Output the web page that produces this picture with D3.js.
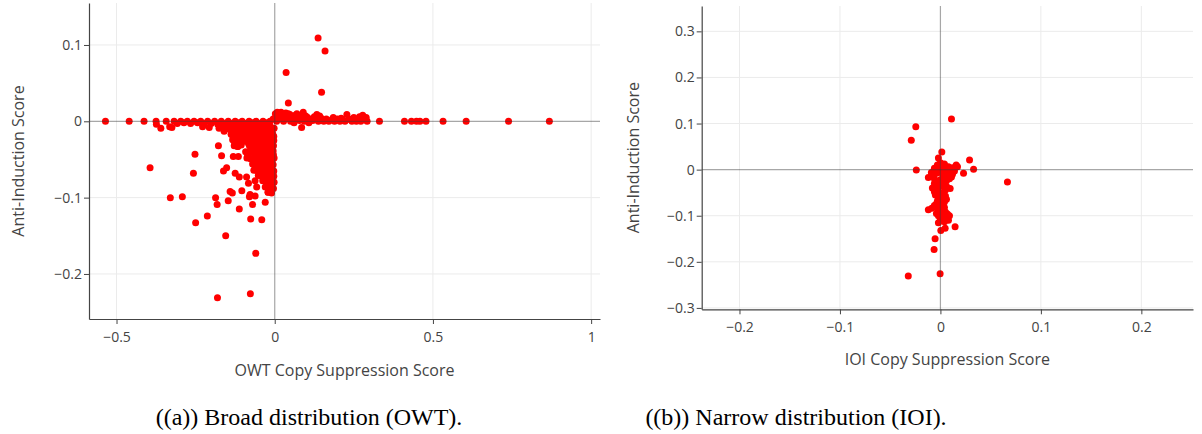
<!DOCTYPE html>
<html>
<head>
<meta charset="utf-8">
<script src="https://cdn.jsdelivr.net/npm/d3@7"></script>
<style>
  body { margin: 0; background: #fff; }
  svg { display: block; font-family: "Open Sans", sans-serif; }
</style>
</head>
<body>
<svg id="chart" width="1202" height="434"></svg>
<script>
// ---- OWT panel: points, [copy suppression, anti-induction]
const owtBand = [
  [-0.535,0],[-0.46,0],[-0.413,0],[-0.375,0],[-0.374,-0.004],[-0.36,-0.009],[-0.343,0],[-0.332,-0.007],
  [-0.325,-0.008],[-0.318,0],[-0.308,-0.003],[-0.297,0],[-0.287,-0.002],[-0.276,0],[-0.266,-0.003],
  [-0.255,0],[-0.244,-0.002],[-0.234,0],[-0.228,-0.007],[-0.223,-0.003],[-0.212,0],[-0.207,-0.008],
  [-0.201,-0.003],[-0.19,0],[-0.18,-0.004],[-0.169,0],[-0.158,-0.003],[-0.147,0],[-0.136,-0.003],
  [-0.125,0],[-0.114,-0.002],[-0.103,0],[-0.092,-0.003],[-0.081,0],[-0.07,-0.002],[-0.059,0],
  [-0.048,-0.003],[-0.037,0],[-0.026,-0.002],[-0.015,0],[-0.005,0.003],
  [0.004,0.006],[0.006,0],[0.012,0.01],[0.017,0.003],[0.024,0.008],[0.028,0],[0.035,0.011],[0.039,0.004],
  [0.048,0.009],[0.05,0],[0.058,0.006],[0.061,-0.002],[0.07,0.01],[0.072,0.003],[0.083,0.007],[0.085,-0.008],
  [0.09,0.012],[0.094,0],[0.104,0.005],[0.108,-0.002],[0.116,0.002],[0.125,0.006],[0.133,0.009],[0.138,0],
  [0.147,0.004],[0.155,0],[0.163,0.003],[0.171,0],[0.18,0.002],[0.189,0],[0.198,0.003],[0.206,0],
  [0.215,0.002],[0.222,0],[0.228,0.009],[0.235,0.003],[0.244,0],[0.25,0.005],[0.258,0],[0.265,0.003],
  [0.272,0],[0.278,0.008],[0.285,0.002],[0.289,0.005],[0.292,0],
  [0.331,0],[0.41,0],[0.432,0],[0.448,0],[0.459,0],[0.478,0],[0.532,0],[0.605,0],[0.739,0],[0.868,0],
  [0.01,0.004],[0.02,0.012],[0.031,0.005],[0.043,0.01],[0.054,0.003],[0.065,0.008],[0.078,0.001],
  [0.098,0.007],[0.12,0.001],[0.142,0.007],[0.16,0.001],[0.185,0.005],[0.21,0.004],[0.24,0.002],[0.268,0.006]
];

const owtCore = [
  [-0.176,-0.009],[-0.165,-0.008],[-0.154,-0.01],[-0.143,-0.008],[-0.132,-0.009],[-0.121,-0.008],
  [-0.11,-0.01],[-0.099,-0.008],[-0.088,-0.009],[-0.077,-0.008],[-0.066,-0.01],[-0.055,-0.008],
  [-0.044,-0.009],[-0.033,-0.008],[-0.022,-0.01],[-0.011,-0.008],[-0.002,-0.009],
  [-0.138,-0.017],[-0.127,-0.016],[-0.116,-0.018],[-0.105,-0.016],[-0.094,-0.017],[-0.083,-0.015],
  [-0.072,-0.017],[-0.061,-0.016],[-0.05,-0.018],[-0.039,-0.016],[-0.028,-0.017],[-0.017,-0.015],[-0.006,-0.017],
  [-0.133,-0.024],[-0.122,-0.025],[-0.111,-0.023],[-0.1,-0.024],[-0.089,-0.026],[-0.078,-0.024],
  [-0.067,-0.025],[-0.056,-0.023],[-0.045,-0.025],[-0.034,-0.024],[-0.023,-0.026],[-0.012,-0.024],[-0.003,-0.025],
  [-0.128,-0.032],[-0.117,-0.033],[-0.106,-0.031],[-0.08,-0.032],[-0.069,-0.033],[-0.058,-0.031],
  [-0.047,-0.033],[-0.036,-0.032],[-0.025,-0.031],[-0.014,-0.033],[-0.004,-0.032],
  [-0.092,-0.04],[-0.081,-0.041],[-0.07,-0.039],[-0.059,-0.041],[-0.048,-0.04],[-0.037,-0.039],
  [-0.026,-0.041],[-0.015,-0.04],[-0.005,-0.039],
  [-0.088,-0.048],[-0.077,-0.049],[-0.055,-0.047],[-0.044,-0.049],[-0.033,-0.048],[-0.022,-0.047],
  [-0.011,-0.049],[-0.002,-0.048],
  [-0.07,-0.056],[-0.059,-0.057],[-0.048,-0.055],[-0.037,-0.057],[-0.026,-0.056],[-0.015,-0.055],[-0.005,-0.057],
  [-0.066,-0.064],[-0.055,-0.065],[-0.044,-0.063],[-0.033,-0.065],[-0.022,-0.064],[-0.011,-0.063],[-0.003,-0.065],
  [-0.052,-0.071],[-0.041,-0.072],[-0.03,-0.07],[-0.019,-0.072],[-0.008,-0.071],[-0.003,-0.072],
  [-0.038,-0.078],[-0.027,-0.079],[-0.016,-0.077],[-0.005,-0.079],[-0.002,-0.08],
  [-0.03,-0.086],[-0.019,-0.087],[-0.008,-0.085],[-0.021,-0.093],[-0.01,-0.094]
];

// in-between markers that close the gaps of the dense wedge
const owtFill = [
  [-0.17,-0.004],[-0.148,-0.005],[-0.126,-0.004],[-0.104,-0.005],[-0.082,-0.004],[-0.06,-0.005],
  [-0.038,-0.004],[-0.016,-0.005],[-0.16,-0.013],[-0.137,-0.012],[-0.115,-0.013],[-0.093,-0.012],
  [-0.071,-0.013],[-0.049,-0.012],[-0.027,-0.013],[-0.008,-0.012],[-0.132,-0.02],[-0.11,-0.021],
  [-0.088,-0.02],[-0.066,-0.021],[-0.044,-0.02],[-0.022,-0.021],[-0.003,-0.02],[-0.127,-0.028],
  [-0.105,-0.028],[-0.083,-0.029],[-0.061,-0.028],[-0.039,-0.029],[-0.017,-0.028],[-0.075,-0.036],
  [-0.053,-0.037],[-0.031,-0.036],[-0.009,-0.037],[-0.086,-0.044],[-0.064,-0.045],[-0.042,-0.044],
  [-0.02,-0.045],[-0.004,-0.044],[-0.066,-0.052],[-0.05,-0.052],[-0.028,-0.052],[-0.008,-0.052],
  [-0.062,-0.06],[-0.042,-0.06],[-0.02,-0.06],[-0.046,-0.068],[-0.025,-0.068],[-0.006,-0.068],
  [-0.033,-0.075],[-0.011,-0.075],[-0.024,-0.082],[-0.004,-0.088]
];

const owtScatter = [
  [-0.394,-0.061],[-0.33,-0.1],[-0.292,-0.099],[-0.252,-0.043],[-0.257,-0.068],[-0.25,-0.133],
  [-0.213,-0.124],[-0.187,-0.1],[-0.182,-0.109],[-0.178,-0.032],[-0.168,-0.045],[-0.162,-0.065],
  [-0.152,-0.061],[-0.155,-0.15],[-0.147,-0.104],[-0.141,-0.092],[-0.134,-0.094],[-0.131,-0.046],
  [-0.125,-0.068],[-0.115,-0.046],[-0.112,-0.073],[-0.112,-0.115],[-0.104,-0.091],[-0.089,-0.073],
  [-0.083,-0.081],[-0.08,-0.099],[-0.078,-0.096],[-0.076,-0.128],[-0.07,-0.109],[-0.062,-0.098],
  [-0.062,-0.078],[-0.057,-0.086],[-0.06,-0.173],[-0.041,-0.129],[-0.03,-0.106],[-0.021,-0.093],
  [-0.181,-0.231],[-0.077,-0.226],[-0.117,-0.033],[-0.099,-0.018],
  [0.036,0.064],[0.043,0.024],[0.137,0.109],[0.159,0.092],[0.148,0.038],[0.002,0.01],[0.008,0.012]
];

// ---- IOI panel
const ioiPoints = [
  [0.011,0.11],[-0.0245,0.093],[-0.029,0.064],[0.0014,0.038],[-0.002,0.025],[0.029,0.021],
  [0.033,0.001],[0.023,-0.008],[0.0157,0.01],[-0.024,-0.001],[-0.012,-0.017],[0.0667,-0.027],
  [0.0097,-0.041],[-0.012,-0.087],[-0.0086,-0.084],[0.009,-0.1],[0.0146,-0.124],[0.0047,-0.127],
  [0.0004,-0.132],[-0.0053,-0.15],[-0.0063,-0.173],[-0.032,-0.231],[-0.0003,-0.226],
  [0,0.015],[-0.003,0.01],[0.004,0.012],[0.008,0.006],[0.012,0.004],[-0.006,0.003],[0,0],
  [0.005,-0.002],[0.01,-0.005],[-0.009,-0.006],[-0.004,-0.008],[0.002,-0.01],[0.007,-0.014],
  [0.012,-0.01],[0.017,0.006],[0.014,-0.003],[-0.006,-0.02],[0,-0.022],[0.009,-0.02],[0.004,-0.028],
  [-0.003,-0.032],[0.006,-0.036],[-0.008,-0.04],[-0.002,-0.045],[0.003,-0.05],[-0.005,-0.055],
  [0.001,-0.06],[0.006,-0.064],[-0.003,-0.068],[0.002,-0.074],[-0.006,-0.078],[0.004,-0.082],
  [-0.001,-0.088],[0.005,-0.092],[-0.004,-0.095],[0.002,-0.1],[0.003,-0.104],[0.006,-0.106],
  [0,-0.11],[-0.002,-0.115],
  [0.003,0.004],[-0.003,-0.003],[0.006,-0.008],[-0.007,-0.013],[0.003,-0.016],[0.011,-0.016],
  [-0.002,-0.026],[0.006,-0.024],[-0.006,-0.03],[0.002,-0.036],[-0.004,-0.04],[0.005,-0.044],
  [-0.006,-0.048],[0.001,-0.054],[0.005,-0.057],[-0.002,-0.062],[0.004,-0.07],[-0.004,-0.074],
  [0.001,-0.08],[-0.003,-0.084],[0.002,-0.09],[0.007,-0.096],[-0.002,-0.1],[0.004,-0.113],[0.008,-0.11]
];

const owtXTicks = [-0.5, 0, 0.5, 1];
const owtYTicks = [-0.2, -0.1, 0, 0.1];
const ioiXTicks = [-0.2, -0.1, 0, 0.1, 0.2];
const ioiYTicks = [-0.3, -0.2, -0.1, 0, 0.1, 0.2, 0.3];

const captions = ["((a)) Broad distribution (OWT).", "((b)) Narrow distribution (IOI)."];

const svg = d3.select("#chart");
const fmt = d3.format("~g");

function drawPanel(o) {
  const x = d3.scaleLinear().domain(o.xDomain).range([o.box.left, o.box.right]);
  const y = d3.scaleLinear().domain(o.yDomain).range([o.box.bottom, o.box.top]);
  const g = svg.append("g");

  // light grid, zero excluded (it gets its own line)
  g.append("g").selectAll("line").data(o.xTicks.filter(t => t !== 0)).join("line")
    .attr("x1", d => x(d)).attr("x2", d => x(d))
    .attr("y1", o.box.top).attr("y2", o.box.bottom)
    .attr("stroke", "#ebebeb").attr("stroke-width", 1);
  g.append("g").selectAll("line").data(o.yTicks.filter(t => t !== 0)).join("line")
    .attr("x1", o.box.left).attr("x2", o.box.right)
    .attr("y1", d => y(d)).attr("y2", d => y(d))
    .attr("stroke", "#ebebeb").attr("stroke-width", 1);

  g.append("g").selectAll("circle").data(o.points).join("circle")
    .attr("cx", d => x(d[0]))
    .attr("cy", d => y(d[1]))
    .attr("r", 3.5)
    .attr("fill", "#ff0000");

  // zero lines sit on top of the markers, as in the original
  g.append("line")
    .attr("x1", o.box.left).attr("x2", o.box.right)
    .attr("y1", y(0)).attr("y2", y(0))
    .attr("stroke", "rgba(60,60,60,0.45)").attr("stroke-width", 1.2);
  g.append("line")
    .attr("x1", x(0)).attr("x2", x(0))
    .attr("y1", o.box.top).attr("y2", o.box.bottom)
    .attr("stroke", "rgba(60,60,60,0.45)").attr("stroke-width", 1.2);

  const xAxis = g.append("g")
    .attr("transform", `translate(0,${o.box.bottom})`)
    .call(d3.axisBottom(x).tickValues(o.xTicks).tickFormat(fmt).tickSize(5).tickSizeOuter(0).tickPadding(8));
  const yAxis = g.append("g")
    .attr("transform", `translate(${o.box.left},0)`)
    .call(d3.axisLeft(y).tickValues(o.yTicks).tickFormat(fmt).tickSize(5).tickSizeOuter(0).tickPadding(2));

  [xAxis, yAxis].forEach(a => {
    a.select(".domain").attr("stroke", "#444").attr("stroke-width", 1.2);
    a.selectAll(".tick line").attr("stroke", "#444");
    a.selectAll(".tick text")
      .attr("fill", "#444")
      .style("font-family", '"Open Sans", sans-serif')
      .style("font-size", "14px");
  });

  g.append("text")
    .attr("x", (o.box.left + o.box.right) / 2)
    .attr("y", o.xTitleY)
    .attr("text-anchor", "middle")
    .attr("fill", "#444")
    .style("font-size", "16px")
    .text(o.xTitle);

  g.append("text")
    .attr("transform", `translate(${o.yTitleX},${(o.box.top + o.box.bottom) / 2}) rotate(-90)`)
    .attr("text-anchor", "middle")
    .attr("fill", "#444")
    .style("font-size", "16px")
    .text(o.yTitle);

  g.append("text")
    .attr("x", o.captionX)
    .attr("y", 425)
    .attr("text-anchor", "middle")
    .attr("fill", "#000")
    .style("font-family", '"Liberation Serif", "Times New Roman", serif')
    .style("font-size", "24px")
    .text(o.caption);
}

drawPanel({
  points: owtBand.concat(owtCore, owtFill, owtScatter),
  xDomain: [-0.587, 1.028],
  yDomain: [-0.259, 0.155],
  box: { left: 89, right: 600, top: 3, bottom: 319 },
  xTicks: owtXTicks,
  yTicks: owtYTicks,
  xTitle: "OWT Copy Suppression Score",
  yTitle: "Anti-Induction Score",
  xTitleY: 376,
  yTitleX: 24,
  caption: captions[0],
  captionX: 309
});

drawPanel({
  points: ioiPoints,
  xDomain: [-0.2376, 0.2514],
  yDomain: [-0.303, 0.355],
  box: { left: 701.7, right: 1193, top: 6, bottom: 309.3 },
  xTicks: ioiXTicks,
  yTicks: ioiYTicks,
  xTitle: "IOI Copy Suppression Score",
  yTitle: "Anti-Induction Score",
  xTitleY: 364.5,
  yTitleX: 639,
  caption: captions[1],
  captionX: 796
});
</script>
</body>
</html>
